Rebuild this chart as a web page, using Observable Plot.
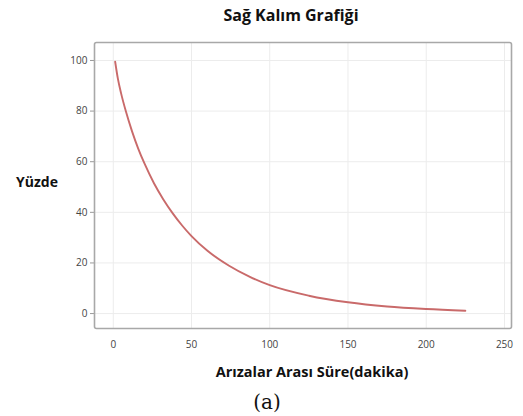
<!DOCTYPE html>
<html>
<head>
<meta charset="utf-8">
<script src="https://cdn.jsdelivr.net/npm/d3@7"></script>
<script src="https://cdn.jsdelivr.net/npm/@observablehq/plot@0.6"></script>
<style>
  html, body { margin: 0; padding: 0; background: #fff; }
  #chart { width: 523px; height: 416px; }
</style>
</head>
<body>
<div id="chart"></div>
<script>
const title = "Sağ Kalım Grafiği";
const yLabel = "Yüzde";
const xLabel = "Arızalar Arası Süre(dakika)";
const caption = "(a)";

const times    = [1.2, 3, 5, 8, 12, 16, 20, 26, 32, 38, 44, 50, 60, 74, 87, 100, 125, 150, 175, 200, 225];
const percents = [99.5, 92.6, 87.0, 80.0, 72.0, 65.1, 59.2, 51.5, 45.1, 39.6, 34.8, 30.6, 24.9, 18.9, 14.6, 11.2, 7.05, 4.45, 2.8, 1.8, 1.12];

const xTicks = [0, 50, 100, 150, 200, 250];
const yTicks = [0, 20, 40, 60, 80, 100];

const data = times.map((t, i) => ({t, p: percents[i]}));

const chart = Plot.plot({
  width: 523,
  height: 416,
  marginLeft: 94,
  marginRight: 12,
  marginTop: 42,
  marginBottom: 88,
  style: {fontFamily: "'Open Sans', sans-serif", fontSize: "10px", color: "#444", background: "#fff"},
  x: {domain: [-12, 254.5], ticks: xTicks, label: null},
  y: {domain: [-5.9, 107.1], ticks: yTicks, label: null},
  marks: [
    Plot.gridX(xTicks, {stroke: "#ececec", strokeOpacity: 1}),
    Plot.gridY(yTicks, {stroke: "#ececec", strokeOpacity: 1}),
    Plot.axisX(xTicks, {tickSize: 0, tickPadding: 12, fill: "#444"}),
    Plot.axisY(yTicks, {tickSize: 4, tickPadding: 3, stroke: "#999", fill: "#444"}),
    Plot.frame({stroke: "#a8a8a8", strokeWidth: 1.6, rx: 2}),
    Plot.line(data, {x: "t", y: "p", stroke: "#c96a6a", strokeWidth: 1.9, curve: "monotone-x"})
  ]
});
document.getElementById("chart").appendChild(chart);

const svg = d3.select(chart);
svg.append("text").attr("x", 291).attr("y", 21).attr("text-anchor", "middle")
  .attr("font-family", "'Open Sans', sans-serif").attr("font-weight", "bold").attr("font-size", 16)
  .attr("fill", "#111").text(title);
svg.append("text").attr("x", 16).attr("y", 187).attr("text-anchor", "start")
  .attr("font-family", "'Open Sans', sans-serif").attr("font-weight", "bold").attr("font-size", 14)
  .attr("fill", "#111").text(yLabel);
svg.append("text").attr("x", 312).attr("y", 377).attr("text-anchor", "middle")
  .attr("font-family", "'Open Sans', sans-serif").attr("font-weight", "bold").attr("font-size", 14.5)
  .attr("fill", "#111").text(xLabel);
svg.append("text").attr("x", 267).attr("y", 409).attr("text-anchor", "middle")
  .attr("font-family", "'DejaVu Serif', serif").attr("font-size", 20)
  .attr("fill", "#111").text(caption);
</script>
</body>
</html>
